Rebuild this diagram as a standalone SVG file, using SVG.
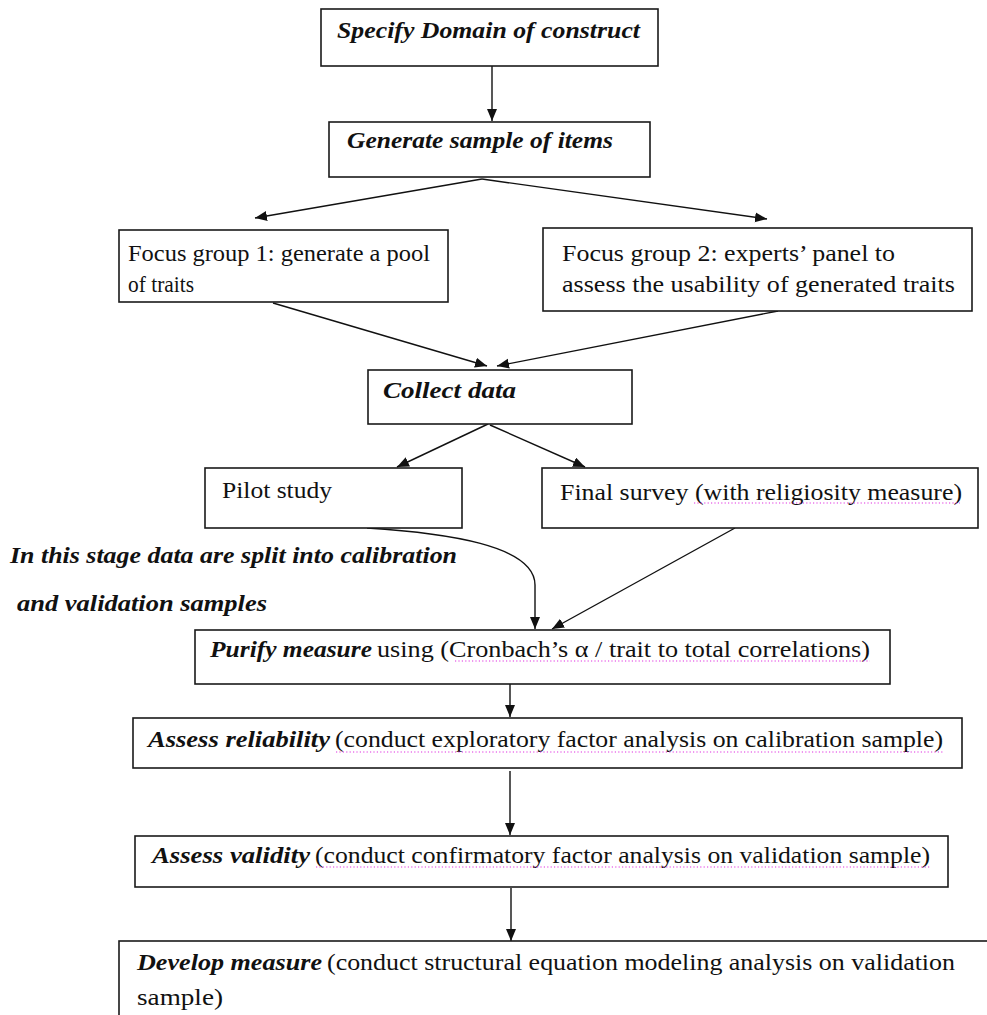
<svg xmlns="http://www.w3.org/2000/svg" width="987" height="1015" viewBox="0 0 987 1015">
  <style>
    .box { fill: #ffffff; stroke: #1a1a1a; stroke-width: 1.6; }
    .t { font-family: "Liberation Serif", "Times New Roman", serif; font-size: 23px; fill: #111111; }
    .h { font-weight: bold; font-style: italic; }
    .edge { fill: none; stroke: #111111; stroke-width: 1.4; marker-end: url(#arrow); }
    .spell { stroke: #e030e0; stroke-width: 1.2; stroke-dasharray: 1.2 2.2; fill: none; }
  </style>
  <defs>
    <marker id="arrow" markerUnits="userSpaceOnUse" markerWidth="13" markerHeight="11" refX="12" refY="5" orient="auto">
      <path d="M0,0 L12,5 L0,10 z" fill="#111111"/>
    </marker>
  </defs>
  <rect width="987" height="1015" fill="#ffffff"/>

  <g id="connectors">
    <line class="edge" x1="492" y1="66" x2="492" y2="121"/>
    <line class="edge" x1="482" y1="179" x2="255" y2="218"/>
    <line class="edge" x1="482" y1="179" x2="767" y2="219"/>
    <line class="edge" x1="273" y1="303" x2="487" y2="366"/>
    <line class="edge" x1="778" y1="311" x2="497" y2="366"/>
    <line class="edge" x1="488" y1="424" x2="397" y2="467"/>
    <line class="edge" x1="490" y1="425" x2="585" y2="467"/>
    <path class="edge" d="M367,528 C445,533 535,545 535,585 L535,629"/>
    <line class="edge" x1="735" y1="528" x2="552" y2="629"/>
    <line class="edge" x1="510" y1="684" x2="510" y2="717"/>
    <line class="edge" x1="510" y1="771" x2="510" y2="835"/>
    <line class="edge" x1="511" y1="888" x2="511" y2="941"/>
  </g>

  <g id="specify-domain">
    <rect class="box" x="321" y="9" width="337" height="57"/>
    <text class="t h" x="337" y="38" textLength="303" lengthAdjust="spacingAndGlyphs">Specify Domain of construct</text>
  </g>

  <g id="generate-sample">
    <rect class="box" x="329" y="122" width="321" height="55"/>
    <text class="t h" x="347" y="148" textLength="266" lengthAdjust="spacingAndGlyphs">Generate sample of items</text>
  </g>

  <g id="focus-group-1">
    <rect class="box" x="119" y="230" width="329" height="72"/>
    <text class="t" x="128" y="261" textLength="302" lengthAdjust="spacingAndGlyphs">Focus group 1: generate a pool</text>
    <text class="t" x="128" y="292" textLength="66" lengthAdjust="spacingAndGlyphs">of traits</text>
  </g>

  <g id="focus-group-2">
    <rect class="box" x="543" y="228" width="429" height="83"/>
    <text class="t" x="562" y="261" textLength="333" lengthAdjust="spacingAndGlyphs">Focus group 2: experts’ panel to</text>
    <text class="t" x="562" y="292" textLength="393" lengthAdjust="spacingAndGlyphs">assess the usability of generated traits</text>
  </g>

  <g id="collect-data">
    <rect class="box" x="368" y="370" width="264" height="54"/>
    <text class="t h" x="383" y="398" textLength="133" lengthAdjust="spacingAndGlyphs">Collect data</text>
  </g>

  <g id="pilot-study">
    <rect class="box" x="205" y="468" width="257" height="60"/>
    <text class="t" x="222" y="498" textLength="110" lengthAdjust="spacingAndGlyphs">Pilot study</text>
  </g>

  <g id="final-survey">
    <rect class="box" x="542" y="468" width="436" height="60"/>
    <text class="t" x="560" y="500" textLength="402" lengthAdjust="spacingAndGlyphs">Final survey (with religiosity  measure)</text>
    <line class="spell" x1="694" y1="503" x2="960" y2="503"/>
  </g>

  <g id="split-note">
    <text class="t h" x="10" y="563" textLength="447" lengthAdjust="spacingAndGlyphs">In this stage data are split into calibration</text>
    <text class="t h" x="17" y="611" textLength="250" lengthAdjust="spacingAndGlyphs">and validation samples</text>
  </g>

  <g id="purify-measure">
    <rect class="box" x="195" y="630" width="695" height="54"/>
    <text class="t h" x="210" y="657" textLength="162" lengthAdjust="spacingAndGlyphs">Purify measure</text>
    <text class="t" x="377" y="657" textLength="493" lengthAdjust="spacingAndGlyphs">using (Cronbach’s α / trait to total correlations)</text>
    <line class="spell" x1="455" y1="661" x2="870" y2="661"/>
  </g>

  <g id="assess-reliability">
    <rect class="box" x="133" y="718" width="829" height="50"/>
    <text class="t h" x="148" y="747" textLength="182" lengthAdjust="spacingAndGlyphs">Assess reliability</text>
    <text class="t" x="335" y="747" textLength="608" lengthAdjust="spacingAndGlyphs">(conduct exploratory factor analysis on calibration sample)</text>
    <line class="spell" x1="336" y1="752" x2="943" y2="752"/>
  </g>

  <g id="assess-validity">
    <rect class="box" x="135" y="836" width="813" height="51"/>
    <text class="t h" x="152" y="863" textLength="158" lengthAdjust="spacingAndGlyphs">Assess validity</text>
    <text class="t" x="315" y="863" textLength="615" lengthAdjust="spacingAndGlyphs">(conduct confirmatory factor analysis on validation sample)</text>
    <line class="spell" x1="316" y1="867" x2="930" y2="867"/>
  </g>

  <g id="develop-measure">
    <rect class="box" x="119" y="941" width="890" height="100"/>
    <text class="t h" x="137" y="970" textLength="185" lengthAdjust="spacingAndGlyphs">Develop measure</text>
    <text class="t" x="327" y="970" textLength="628" lengthAdjust="spacingAndGlyphs">(conduct structural equation modeling analysis on validation</text>
    <text class="t" x="137" y="1005" textLength="86" lengthAdjust="spacingAndGlyphs">sample)</text>
  </g>
</svg>
